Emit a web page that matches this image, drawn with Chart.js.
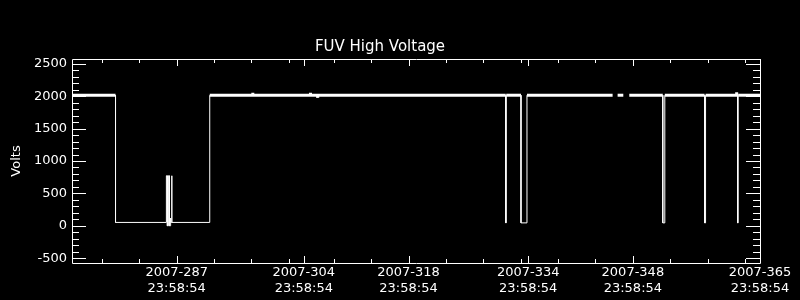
<!DOCTYPE html>
<html>
<head>
<meta charset="utf-8">
<script src="https://cdn.jsdelivr.net/npm/chart.js@4.4.1/dist/chart.umd.min.js"></script>
<style>
  html, body { margin: 0; padding: 0; background: #000; }
  canvas { display: block; }
</style>
</head>
<body>
<canvas id="myChart" width="800" height="300"></canvas>
<script>
// day of year 2007 (label times are 23:58:54 of that day)
let times = [
  273, 278.82, 278.82,
  285.62, 285.62, 285.75, 285.75, 285.89, 285.89, 286.02, 286.02,
  286.17, 286.17, 286.2, 286.2, 286.33, 286.33, 286.36, 286.36,
  291.42, 291.42,
  297.15, 297.17, 297.19,
  304.86, 304.88, 304.9, 305.83, 305.85, 305.87,
  331.0, 331.0, 331.06, 331.06,
  333.04, 333.04, 333.84, 333.84,
  345.07, 345.29, 345.6, 345.96, 346.72, 347.1, 347.52,
  352.0, 352.0, 352.27, 352.27,
  357.59, 357.59, 357.72, 357.72,
  361.85, 361.87, 361.89,
  362.0, 362.0, 362.08, 362.08,
  365
];
let volts = [
  2015, 2015, 52,
  52, 772, 772, 0, 0, 772, 772, 0,
  0, 120, 120, 52, 52, 772, 772, 52,
  52, 2015,
  2015, 2055, 2015,
  2015, 2055, 2015, 2015, 1975, 2015,
  2015, 45, 45, 2015,
  2015, 45, 45, 2015,
  2015, 2015, null, 2015, 2015, null, 2015,
  2015, 45, 45, 2015,
  2015, 45, 45, 2015,
  2015, 2060, 2015,
  2015, 45, 45, 2015,
  2015
];
let majorDays = [287, 304, 318, 334, 348, 365];
let minorDays = [277, 282, 292, 297, 302, 308, 313, 323, 328, 333, 338, 343, 353, 358, 363];
let yLabels = [-500, 0, 500, 1000, 1500, 2000, 2500];
let timeOfDay = "23:58:54";

let ctx = document.getElementById("myChart").getContext("2d");

// IDL style box with inward ticks on all four sides
let frame = {
  id: "frame",
  afterDatasetsDraw(chart) {
    let { ctx, chartArea: a, scales } = chart;
    let x = scales.x;
    let y = scales.y;
    ctx.save();
    ctx.strokeStyle = "#fff";
    ctx.lineWidth = 1;
    ctx.beginPath();
    ctx.rect(a.left + 0.5, a.top + 0.5, a.right - a.left, a.bottom - a.top);
    let xt = (v, len) => {
      let px = Math.round(x.getPixelForValue(v)) + 0.5;
      ctx.moveTo(px, a.bottom);
      ctx.lineTo(px, a.bottom - len);
      ctx.moveTo(px, a.top);
      ctx.lineTo(px, a.top + len);
    };
    majorDays.forEach((d) => xt(d, 7));
    minorDays.forEach((d) => xt(d, 4));
    for (let v = -500; v <= 2500; v += 100) {
      let py = Math.round(y.getPixelForValue(v)) + 0.5;
      let len = v % 500 == 0 ? 14 : 7;
      ctx.moveTo(a.left, py);
      ctx.lineTo(a.left + len, py);
      ctx.moveTo(a.right, py);
      ctx.lineTo(a.right - len, py);
    }
    ctx.stroke();
    ctx.restore();
  },
};

let font = { family: "DejaVu Sans", size: 13 };

let myChart = new Chart(ctx, {
  type: "line",
  data: {
    datasets: [
      {
        data: times.map((t, i) => ({ x: t, y: volts[i] })),
        borderColor: "#fff",
        borderWidth: 1,
        pointRadius: 0,
        tension: 0,
        spanGaps: false,
        segment: {
          borderWidth: (c) => (c.p0.parsed.y >= 1900 && c.p1.parsed.y >= 1900 ? 3 : 1),
        },
      },
    ],
  },
  options: {
    responsive: false,
    animation: false,
    layout: { padding: { left: 0, right: 40, top: 0, bottom: 0 } },
    plugins: {
      legend: { display: false },
      tooltip: { enabled: false },
      title: {
        display: true,
        text: "FUV High Voltage",
        color: "#fff",
        font: { family: "DejaVu Sans", size: 15, weight: "normal" },
        padding: { top: 38, bottom: 3 },
      },
    },
    scales: {
      x: {
        type: "linear",
        min: 273,
        max: 365,
        grid: { display: false, drawTicks: false },
        border: { display: false },
        afterBuildTicks: (axis) => {
          axis.ticks = majorDays.map((v) => ({ value: v }));
        },
        afterFit: (scale) => {
          scale.height = 37;
        },
        ticks: {
          color: "#fff",
          font: font,
          padding: 2,
          maxRotation: 0,
          autoSkip: false,
          callback: (v) => ["2007-" + v, timeOfDay],
        },
      },
      y: {
        min: -574,
        max: 2574,
        grid: { display: false, drawTicks: false },
        border: { display: false },
        afterBuildTicks: (axis) => {
          axis.ticks = yLabels.map((v) => ({ value: v }));
        },
        afterFit: (scale) => {
          scale.width = 72;
        },
        ticks: {
          color: "#fff",
          font: font,
          padding: 5,
          callback: (v) => String(v),
        },
        title: {
          display: true,
          text: "Volts",
          color: "#fff",
          font: font,
          padding: { top: 9, bottom: 0 },
        },
      },
    },
  },
  plugins: [frame],
});
</script>
</body>
</html>
